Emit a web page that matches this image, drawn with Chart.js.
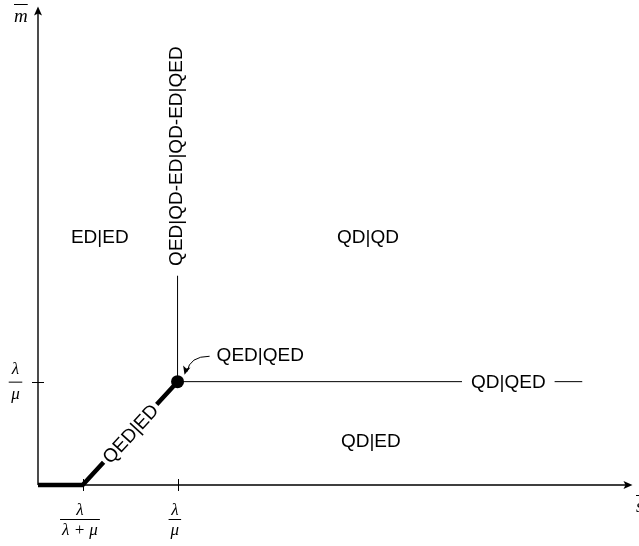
<!DOCTYPE html>
<html><head><meta charset="utf-8">
<script src="https://cdn.jsdelivr.net/npm/chart.js@4/dist/chart.umd.min.js"></script>
<style>html,body{margin:0;padding:0;background:#fff}canvas{display:block}</style>
</head><body>
<canvas id="c" width="639" height="546"></canvas>
<script>
// ---- data ----
const boundaryX = [0, 0.64, 2];
const boundaryY = [0, 0, 2];
const vertX = [2, 2];
const vertY = [2, 4.05];
const horizX = [2, 7.8];
const horizY = [2, 2];
const triplePoint = [2, 2];
const xTickValues = [0.64, 2];
const xTickNum = ['λ', 'λ'];
const xTickDen = ['λ + μ', 'μ'];
const yTickValues = [2];
const yTickNum = ['λ'];
const yTickDen = ['μ'];
const regionLabels = ['ED|ED', 'QD|QD', 'QD|ED'];
const regionX = [0.885, 4.73, 4.77];
const regionY = [4.82, 4.82, 0.87];
const diagLabel = 'QED|ED';
const horizLabel = 'QD|QED';
const horizLabelX = 6.74;
const vertLabel = 'QED|QD-ED|QD-ED|QED';
const vertLabelStartY = 4.24;
const pointLabel = 'QED|QED';
const pointLabelX = 3.185;
const pointLabelY = 2.53;
const xAxisLabel = 's';
const yAxisLabel = 'm';
const X_MAX = 8.52, Y_MAX = 9.26;

const SANS = '19px "Liberation Sans", Arial, sans-serif';
const SERIF = 'italic 17px "Liberation Serif", "Times New Roman", serif';

function pts(xs, ys) { return xs.map((x, i) => ({x: x, y: ys[i]})); }

const overlay = {
  id: 'overlay',
  beforeDatasetsDraw(chart) {
    const ctx = chart.ctx, xs = chart.scales.x, ys = chart.scales.y;
    const x0 = xs.getPixelForValue(0), y0 = ys.getPixelForValue(0);
    const xe = xs.getPixelForValue(X_MAX), ye = ys.getPixelForValue(Y_MAX);
    ctx.save();
    ctx.strokeStyle = '#000'; ctx.fillStyle = '#000'; ctx.lineWidth = 1.4;
    // axes
    ctx.beginPath();
    ctx.moveTo(x0, y0); ctx.lineTo(xe - 6, y0);
    ctx.moveTo(x0, y0); ctx.lineTo(x0, ye + 6);
    ctx.stroke();
    // arrowheads
    ctx.beginPath();
    ctx.moveTo(xe, y0); ctx.lineTo(xe - 9, y0 - 4); ctx.lineTo(xe - 7, y0); ctx.lineTo(xe - 9, y0 + 4); ctx.closePath();
    ctx.fill();
    ctx.beginPath();
    ctx.moveTo(x0, ye); ctx.lineTo(x0 - 4, ye + 9); ctx.lineTo(x0, ye + 7); ctx.lineTo(x0 + 4, ye + 9); ctx.closePath();
    ctx.fill();
    // tick marks
    ctx.lineWidth = 1;
    xTickValues.forEach(v => {
      const p = Math.round(xs.getPixelForValue(v)) + 0.5;
      ctx.beginPath(); ctx.moveTo(p, y0 - 6); ctx.lineTo(p, y0 + 6); ctx.stroke();
    });
    yTickValues.forEach(v => {
      const p = Math.round(ys.getPixelForValue(v)) + 0.5;
      ctx.beginPath(); ctx.moveTo(x0 - 6, p); ctx.lineTo(x0 + 6, p); ctx.stroke();
    });
    // fraction tick labels
    ctx.font = SERIF; ctx.textAlign = 'center'; ctx.textBaseline = 'alphabetic';
    xTickValues.forEach((v, i) => {
      const cx = xs.getPixelForValue(v) - 2.7;
      const w = Math.max(ctx.measureText(xTickNum[i]).width, ctx.measureText(xTickDen[i]).width) + 4;
      ctx.fillText(xTickNum[i], cx, y0 + 30);
      ctx.fillText(xTickDen[i], cx, y0 + 50);
      ctx.beginPath(); ctx.moveTo(cx - w / 2, y0 + 34.5); ctx.lineTo(cx + w / 2, y0 + 34.5); ctx.stroke();
    });
    yTickValues.forEach((v, i) => {
      const cy = ys.getPixelForValue(v);
      const cx = 15.5;
      const w = Math.max(ctx.measureText(yTickNum[i]).width, ctx.measureText(yTickDen[i]).width) + 5;
      ctx.fillText(yTickNum[i], cx, cy - 8);
      ctx.fillText(yTickDen[i], cx, cy + 17);
      ctx.beginPath(); ctx.moveTo(cx - w / 2, cy + 0.5); ctx.lineTo(cx + w / 2, cy + 0.5); ctx.stroke();
    });
    // axis labels with overline
    ctx.font = 'italic 19px "Liberation Serif", "Times New Roman", serif';
    ctx.textAlign = 'left';
    const mw = ctx.measureText(yAxisLabel).width;
    ctx.fillText(yAxisLabel, 14, 22);
    ctx.beginPath(); ctx.moveTo(14, 4.5); ctx.lineTo(14 + mw, 4.5); ctx.stroke();
    const sw = ctx.measureText(xAxisLabel).width;
    ctx.fillText(xAxisLabel, 636, 512);
    ctx.beginPath(); ctx.moveTo(636, 495.5); ctx.lineTo(636 + sw, 495.5); ctx.stroke();
    ctx.restore();
  },
  afterDatasetsDraw(chart) {
    const ctx = chart.ctx, xs = chart.scales.x, ys = chart.scales.y;
    ctx.save();
    ctx.fillStyle = '#000'; ctx.strokeStyle = '#000';
    ctx.font = SANS; ctx.textAlign = 'center'; ctx.textBaseline = 'alphabetic';
    // region labels
    regionLabels.forEach((t, i) => {
      ctx.fillText(t, xs.getPixelForValue(regionX[i]), ys.getPixelForValue(regionY[i]) + 6.8);
    });
    // diagonal label with white box
    const ax = xs.getPixelForValue(boundaryX[1]), ay = ys.getPixelForValue(boundaryY[1]);
    const bx = xs.getPixelForValue(boundaryX[2]), by = ys.getPixelForValue(boundaryY[2]);
    const ang = Math.atan2(by - ay, bx - ax);
    ctx.save();
    ctx.translate((ax + bx) / 2, (ay + by) / 2);
    ctx.rotate(ang);
    const dw = ctx.measureText(diagLabel).width;
    ctx.fillStyle = '#fff';
    ctx.fillRect(-dw / 2 - 3, -9, dw + 6, 18);
    ctx.fillStyle = '#000';
    ctx.fillText(diagLabel, 0, 6.8);
    ctx.restore();
    // horizontal line label with white box
    const hx = xs.getPixelForValue(horizLabelX), hy = ys.getPixelForValue(horizY[0]);
    const hw = ctx.measureText(horizLabel).width;
    ctx.fillStyle = '#fff';
    ctx.fillRect(hx - hw / 2 - 9, hy - 9, hw + 18, 18);
    ctx.fillStyle = '#000';
    ctx.fillText(horizLabel, hx, hy + 6.8);
    // vertical label
    ctx.save();
    ctx.translate(xs.getPixelForValue(vertX[0]) - 2, ys.getPixelForValue(vertLabelStartY));
    ctx.rotate(-Math.PI / 2);
    ctx.textAlign = 'left';
    ctx.fillText(vertLabel, 0, 6.8);
    ctx.restore();
    // point label with curved arrow
    const lx = xs.getPixelForValue(pointLabelX), ly = ys.getPixelForValue(pointLabelY);
    ctx.fillText(pointLabel, lx, ly + 6.8);
    const pw = ctx.measureText(pointLabel).width;
    const dx = xs.getPixelForValue(triplePoint[0]), dy = ys.getPixelForValue(triplePoint[1]);
    const sx = lx - pw / 2 - 7, sy = ly + 2;
    const ex = dx + 7, ey = dy - 7;
    const cx = dx + 12, cy = ly + 2;
    ctx.lineWidth = 1;
    ctx.beginPath(); ctx.moveTo(sx, sy); ctx.quadraticCurveTo(cx, cy, ex + 2.5, ey - 3); ctx.stroke();
    const ta = Math.atan2(ey - cy, ex - cx);
    ctx.save();
    ctx.translate(ex, ey); ctx.rotate(ta);
    ctx.beginPath(); ctx.moveTo(0, 0); ctx.lineTo(-8.5, -3.8); ctx.lineTo(-6.5, 0); ctx.lineTo(-8.5, 3.8); ctx.closePath(); ctx.fill();
    ctx.restore();
    ctx.restore();
  }
};

new Chart(document.getElementById('c'), {
  type: 'scatter',
  data: {
    datasets: [
      {data: pts(boundaryX, boundaryY), showLine: true, borderColor: '#000', borderWidth: 4.5, pointRadius: 0, borderCapStyle: 'butt', clip: false},
      {data: pts(vertX, vertY), showLine: true, borderColor: '#000', borderWidth: 1, pointRadius: 0, clip: false},
      {data: pts(horizX, horizY), showLine: true, borderColor: '#000', borderWidth: 1, pointRadius: 0, clip: false},
      {data: [{x: triplePoint[0], y: triplePoint[1]}], showLine: false, pointRadius: 6.5, pointBackgroundColor: '#000', pointBorderColor: '#000', pointBorderWidth: 0, clip: false}
    ]
  },
  options: {
    responsive: false,
    animation: false,
    devicePixelRatio: 1,
    layout: {padding: {left: 38, right: 0.5, top: 5, bottom: 61}},
    plugins: {legend: {display: false}, tooltip: {enabled: false}},
    scales: {
      x: {type: 'linear', min: 0, max: X_MAX, display: false},
      y: {type: 'linear', min: 0, max: Y_MAX, display: false}
    }
  },
  plugins: [overlay]
});
</script>
</body></html>
